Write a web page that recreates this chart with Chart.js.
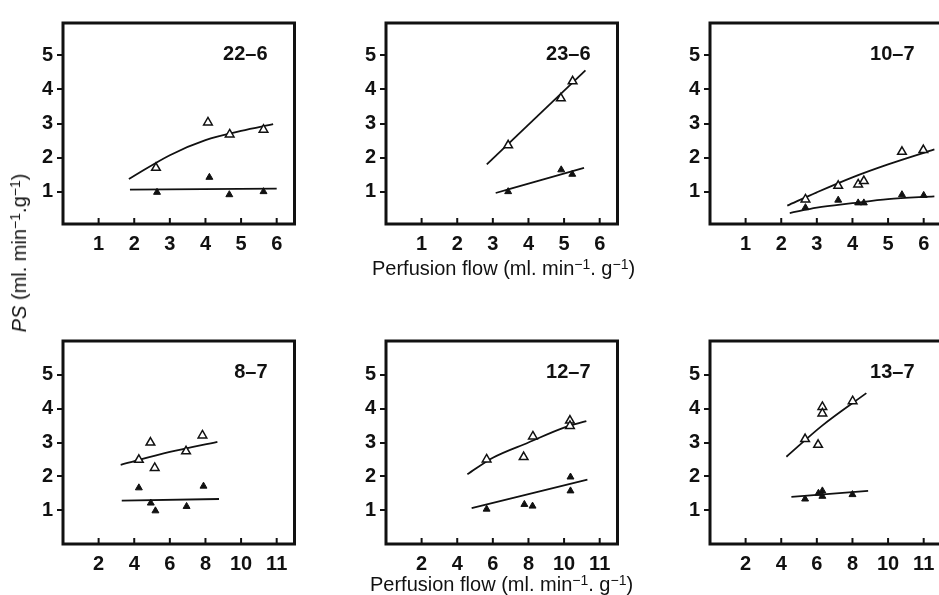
<!DOCTYPE html>
<html>
<head>
<meta charset="utf-8">
<script src="https://cdn.jsdelivr.net/npm/chart.js@4.4.1/dist/chart.umd.min.js"></script>
<style>
  html, body { margin: 0; padding: 0; background: #fff; overflow: hidden; width: 939px; height: 595px; }
  canvas { position: absolute; }
  .axtitle { position: absolute; font-family: "Liberation Sans", Arial, sans-serif; font-size: 20px; line-height: 20px; color: #111; white-space: nowrap; }
  .sup { position: relative; top: -0.45em; font-size: 0.7em; }
  #ylab { left: 20px; top: 253px; transform: translate(-50%, -50%) rotate(-90deg); }
</style>
</head>
<body>
<canvas id="p1" width="288" height="257" style="left:13px;top:7px"></canvas>
<canvas id="p2" width="288" height="257" style="left:336px;top:7px"></canvas>
<canvas id="p3" width="288" height="257" style="left:660px;top:7px"></canvas>
<canvas id="p4" width="288" height="259" style="left:13px;top:325px"></canvas>
<canvas id="p5" width="288" height="259" style="left:336px;top:325px"></canvas>
<canvas id="p6" width="288" height="259" style="left:660px;top:325px"></canvas>

<div class="axtitle" style="left:372px;top:258px">Perfusion flow (ml. min<span class="sup">&minus;1</span>. g<span class="sup">&minus;1</span>)</div>
<div class="axtitle" style="left:370px;top:574px">Perfusion flow (ml. min<span class="sup">&minus;1</span>. g<span class="sup">&minus;1</span>)</div>
<div class="axtitle" id="ylab"><i>PS</i> (ml. min<span class="sup">&minus;1</span>.g<span class="sup">&minus;1</span>)</div>

<script>
// tick labels
var yTicks = [1, 2, 3, 4, 5];
var xTicksTop = [1, 2, 3, 4, 5, 6];
var xTicksBottom = [2, 4, 6, 8, 10, 12];
var xTickLabelsBottom = ['2', '4', '6', '8', '10', '11'];

// 22-6
var p1OpenX = [2.61, 4.07, 4.68, 5.63];
var p1OpenY = [1.70, 3.03, 2.68, 2.82];
var p1FillX = [2.64, 4.11, 4.67, 5.63];
var p1FillY = [0.98, 1.42, 0.91, 1.00];
var p1OpenFitX = [1.85, 3, 4, 5, 5.9];
var p1OpenFitY = [1.37, 2.07, 2.51, 2.78, 2.98];
var p1FillFitX = [1.88, 6.0];
var p1FillFitY = [1.06, 1.09];

// 23-6
var p2OpenX = [3.43, 4.91, 5.24];
var p2OpenY = [2.36, 3.74, 4.24];
var p2FillX = [3.43, 4.92, 5.23];
var p2FillY = [1.00, 1.64, 1.51];
var p2OpenFitX = [2.83, 5.6];
var p2OpenFitY = [1.80, 4.56];
var p2FillFitX = [3.08, 5.56];
var p2FillFitY = [0.96, 1.70];

// 10-7
var p3OpenX = [2.68, 3.60, 4.16, 4.32, 5.39, 5.99];
var p3OpenY = [0.77, 1.17, 1.21, 1.31, 2.17, 2.22];
var p3FillX = [2.68, 3.60, 4.16, 4.32, 5.39, 6.00];
var p3FillY = [0.53, 0.75, 0.67, 0.67, 0.91, 0.89];
var p3OpenFitX = [2.17, 3, 4, 5, 6.3];
var p3OpenFitY = [0.59, 0.98, 1.42, 1.80, 2.24];
var p3FillFitX = [2.24, 3, 4, 5, 6.3];
var p3FillFitY = [0.37, 0.53, 0.66, 0.78, 0.86];

// 8-7
var p4OpenX = [4.26, 4.91, 5.15, 6.91, 7.83];
var p4OpenY = [2.49, 3.00, 2.25, 2.74, 3.21];
var p4FillX = [4.26, 4.93, 5.19, 6.94, 7.89];
var p4FillY = [1.66, 1.21, 0.98, 1.11, 1.71];
var p4OpenFitX = [3.24, 6, 8.67];
var p4OpenFitY = [2.34, 2.72, 3.02];
var p4FillFitX = [3.3, 8.76];
var p4FillFitY = [1.28, 1.33];

// 12-7
var p5OpenX = [5.65, 7.73, 8.25, 10.33, 10.33];
var p5OpenY = [2.50, 2.57, 3.18, 3.65, 3.49];
var p5FillX = [5.65, 7.77, 8.23, 10.36, 10.36];
var p5FillY = [1.03, 1.17, 1.12, 1.98, 1.57];
var p5OpenFitX = [4.57, 6, 8, 10, 11.25];
var p5OpenFitY = [2.06, 2.55, 3.0, 3.44, 3.63];
var p5FillFitX = [4.81, 11.31];
var p5FillFitY = [1.06, 1.90];

// 13-7
var p6OpenX = [5.34, 6.07, 6.31, 6.31, 8.01];
var p6OpenY = [3.10, 2.93, 4.05, 3.86, 4.22];
var p6FillX = [5.34, 6.09, 6.31, 6.31, 8.00];
var p6FillY = [1.33, 1.50, 1.57, 1.41, 1.46];
var p6OpenFitX = [4.29, 6.3, 8.78];
var p6OpenFitY = [2.58, 3.5, 4.46];
var p6FillFitX = [4.57, 8.88];
var p6FillFitY = [1.39, 1.57];

var FONT = '"Liberation Sans", Arial, sans-serif';
var INK = '#111';

function pts(xs, ys) {
  return xs.map(function (x, i) { return { x: x, y: ys[i] }; });
}

// box round the plot area, inside x tick marks, and the run label
var framePlugin = {
  id: 'frame',
  afterDraw: function (chart) {
    var a = chart.chartArea;
    var ctx = chart.ctx;
    var xs = chart.scales.x;
    ctx.save();
    ctx.strokeStyle = INK;
    ctx.lineWidth = 3;
    ctx.strokeRect(a.left, a.top, a.right - a.left, a.bottom - a.top);
    ctx.lineWidth = 2;
    xs.ticks.forEach(function (t) {
      var px = xs.getPixelForValue(t.value);
      ctx.beginPath();
      ctx.moveTo(px, a.bottom);
      ctx.lineTo(px, a.bottom - 6);
      ctx.stroke();
    });
    ctx.fillStyle = INK;
    ctx.font = 'bold 20px ' + FONT;
    ctx.textAlign = 'right';
    ctx.textBaseline = 'top';
    ctx.fillText(chart.options.plugins.frame.label, a.right - 27, a.top + 21);
    ctx.restore();
  }
};

function panel(id, label, xMax, xTicks, xLabels, yMin, yMax, s) {
  var ctx = document.getElementById(id).getContext('2d');
  var data = {
    datasets: [
      {
        data: pts(s.openX, s.openY),
        pointStyle: 'triangle', pointRadius: 5,
        pointBackgroundColor: '#fff', pointBorderColor: INK, pointBorderWidth: 1.5,
        showLine: false
      },
      {
        data: pts(s.fillX, s.fillY),
        pointStyle: 'triangle', pointRadius: 4,
        pointBackgroundColor: INK, pointBorderColor: INK, pointBorderWidth: 1,
        showLine: false
      },
      {
        data: pts(s.openFitX, s.openFitY),
        showLine: true, pointRadius: 0, borderColor: INK, borderWidth: 1.8,
        tension: 0.4, cubicInterpolationMode: 'monotone'
      },
      {
        data: pts(s.fillFitX, s.fillFitY),
        showLine: true, pointRadius: 0, borderColor: INK, borderWidth: 1.8,
        tension: 0.4, cubicInterpolationMode: 'monotone'
      }
    ]
  };
  return new Chart(ctx, {
    type: 'scatter',
    data: data,
    plugins: [framePlugin],
    options: {
      responsive: false,
      animation: false,
      events: [],
      layout: { padding: { top: 6, right: 6, left: 0, bottom: 0 } },
      plugins: { legend: { display: false }, tooltip: { enabled: false }, frame: { label: label } },
      scales: {
        x: {
          type: 'linear', min: 0, max: xMax,
          afterBuildTicks: function (sc) { sc.ticks = xTicks.map(function (v) { return { value: v }; }); },
          afterFit: function (sc) { sc.height = 40; },
          grid: { display: false, drawTicks: false },
          border: { display: false },
          ticks: {
            autoSkip: false, maxRotation: 0, padding: 8, color: INK,
            font: { family: FONT, size: 20, weight: 'bold' },
            callback: function (v, i) { return xLabels[i]; }
          }
        },
        y: {
          min: yMin, max: yMax,
          afterBuildTicks: function (sc) { sc.ticks = yTicks.map(function (v) { return { value: v }; }); },
          afterFit: function (sc) { sc.width = 50; },
          grid: { drawOnChartArea: false, tickLength: 6, color: INK, lineWidth: 2 },
          border: { display: false },
          ticks: { padding: 4, color: INK, font: { family: FONT, size: 20, weight: 'bold' } }
        }
      }
    }
  });
}

var topLabels = xTicksTop.map(String);

panel('p1', '22–6', 6.5, xTicksTop, topLabels, 0.05, 5.95,
  { openX: p1OpenX, openY: p1OpenY, fillX: p1FillX, fillY: p1FillY,
    openFitX: p1OpenFitX, openFitY: p1OpenFitY, fillFitX: p1FillFitX, fillFitY: p1FillFitY });
panel('p2', '23–6', 6.5, xTicksTop, topLabels, 0.05, 5.95,
  { openX: p2OpenX, openY: p2OpenY, fillX: p2FillX, fillY: p2FillY,
    openFitX: p2OpenFitX, openFitY: p2OpenFitY, fillFitX: p2FillFitX, fillFitY: p2FillFitY });
panel('p3', '10–7', 6.5, xTicksTop, topLabels, 0.05, 5.95,
  { openX: p3OpenX, openY: p3OpenY, fillX: p3FillX, fillY: p3FillY,
    openFitX: p3OpenFitX, openFitY: p3OpenFitY, fillFitX: p3FillFitX, fillFitY: p3FillFitY });
panel('p4', '8–7', 13, xTicksBottom, xTickLabelsBottom, 0, 6,
  { openX: p4OpenX, openY: p4OpenY, fillX: p4FillX, fillY: p4FillY,
    openFitX: p4OpenFitX, openFitY: p4OpenFitY, fillFitX: p4FillFitX, fillFitY: p4FillFitY });
panel('p5', '12–7', 13, xTicksBottom, xTickLabelsBottom, 0, 6,
  { openX: p5OpenX, openY: p5OpenY, fillX: p5FillX, fillY: p5FillY,
    openFitX: p5OpenFitX, openFitY: p5OpenFitY, fillFitX: p5FillFitX, fillFitY: p5FillFitY });
panel('p6', '13–7', 13, xTicksBottom, xTickLabelsBottom, 0, 6,
  { openX: p6OpenX, openY: p6OpenY, fillX: p6FillX, fillY: p6FillY,
    openFitX: p6OpenFitX, openFitY: p6OpenFitY, fillFitX: p6FillFitX, fillFitY: p6FillFitY });
</script>
</body>
</html>
